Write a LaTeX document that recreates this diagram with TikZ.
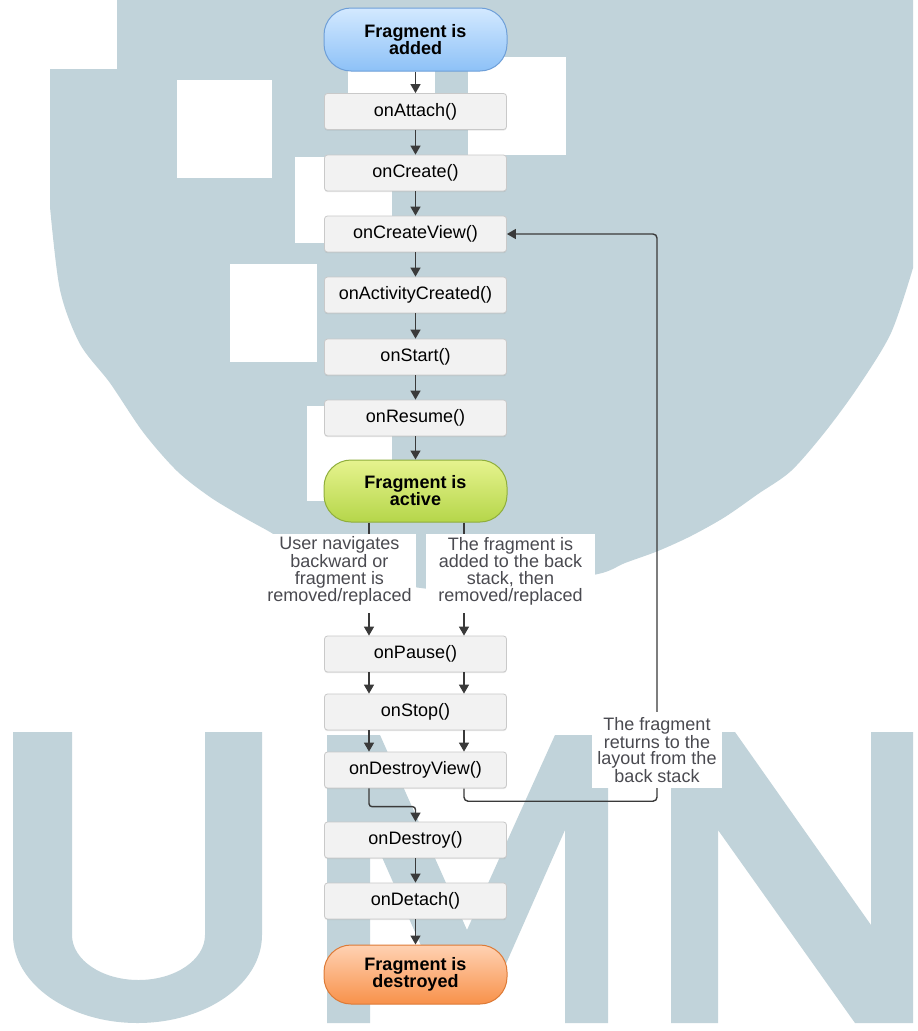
\documentclass[tikz,border=0pt]{standalone}
\usepackage{fontspec}
\setmainfont{Liberation Sans}
\usetikzlibrary{arrows.meta,calc,shadows}
\definecolor{wm}{HTML}{C1D3DA}
\definecolor{boxfill}{HTML}{F2F2F2}
\definecolor{boxline}{HTML}{C9C9C9}
\definecolor{conncol}{HTML}{3A3A3A}
\definecolor{notecol}{HTML}{4A4A50}
\definecolor{blueT}{HTML}{D3E9FF}
\definecolor{blueB}{HTML}{8DC1F7}
\definecolor{blueL}{HTML}{6E9FD8}
\definecolor{greenT}{HTML}{E6F38E}
\definecolor{greenB}{HTML}{B5D64A}
\definecolor{greenL}{HTML}{8FAE3C}
\definecolor{orangeT}{HTML}{FFD2B3}
\definecolor{orangeB}{HTML}{F8914A}
\definecolor{orangeL}{HTML}{DD7A36}
\pgfdeclarelayer{wmlayer}
\pgfdeclarelayer{mid}
\pgfsetlayers{wmlayer,mid,main}
\tikzset{
  method/.style={rectangle, rounded corners=3pt, fill=boxfill, draw=boxline, line width=0.8pt,
    minimum width=182pt, minimum height=36pt, inner sep=0pt,
    font=\fontsize{18}{20}\selectfont, text=black,
    drop shadow={shadow xshift=0pt, shadow yshift=-1.2pt, opacity=0.18}},
  pill/.style={rectangle, rounded corners=27pt, minimum width=183pt, inner sep=0pt, align=center,
    font=\bfseries\fontsize{18}{17}\selectfont, line width=1pt, text=black},
  conn/.style={draw=conncol, line width=1.4pt, -{Triangle[width=10pt,length=9pt]}},
  lane/.style={draw=conncol, line width=1.4pt},
  note/.style={fill=white, inner sep=0pt, align=center, text=notecol,
    font=\fontsize{18}{16.7}\selectfont}
}
\begin{document}
\begin{tikzpicture}[x=1pt,y=-1pt]
\useasboundingbox (0,0) rectangle (918,1031);
\begin{pgfonlayer}{wmlayer}
\fill[white] (0,0) rectangle (918,1031);
% watermark shield
\fill[wm] (117,0) -- (913,0) -- (913,268) -- plot[smooth] coordinates {(913,268) (891,333) (858,387) (825,432) (791,471) (758,494) (725,517) (691,536) (658,551) (625,563) (598,574) (520,586) (440,590) (360,576) (300,550) (270,532) (243,517) (210,497) (177,471) (143,432) (110,383) (80,344) (60,290) (50,207)} -- (50,69) -- (117,69) -- cycle;
\fill[white] (177,80) rectangle (272,178);
\fill[white] (230,264) rectangle (317,362);
\fill[white] (295,157) rectangle (392,243);
\fill[white] (307,406) rectangle (392,501);
\fill[white] (348,71) rectangle (435,94);
\fill[white] (468,57) rectangle (566,155);
% watermark letters
\fill[wm] (13,732) -- (72,732) -- (72,935) arc[start angle=180, end angle=0, x radius=66.5, y radius=45]
  -- (205,732) -- (262,732) -- (262,935) arc[start angle=0, end angle=180, x radius=124.5, y radius=88] -- cycle;
\fill[wm] (327,1023) -- (327,735) -- (380,735) -- (467,930) -- (555,735) -- (608,735) -- (608,1023)
  -- (565,1023) -- (565,830) -- (490,1000) -- (445,1000) -- (370,830) -- (370,1023) -- cycle;
\fill[wm] (671,1023) -- (671,732) -- (735,732) -- (871,925) -- (871,732) -- (913,732) -- (913,1023)
  -- (855,1023) -- (718,830) -- (718,1023) -- cycle;
\end{pgfonlayer}

% nodes
\node[pill, minimum height=63pt, draw=blueL, top color=blueT, bottom color=blueB] (added) at (415.5,39.5) {Fragment is\\added};
\node[method] (attach) at (415.5,111.5) {onAttach()};
\node[method] (create) at (415.5,173) {onCreate()};
\node[method] (cview) at (415.5,234) {onCreateView()};
\node[method] (actc) at (415.5,295) {onActivityCreated()};
\node[method] (start) at (415.5,357) {onStart()};
\node[method] (resume) at (415.5,418) {onResume()};
\node[pill, minimum height=62pt, draw=greenL, top color=greenT, bottom color=greenB] (active) at (415.5,491) {Fragment is\\active};
\node[note, minimum width=153pt, minimum height=74pt] (lblL) at (339.5,571) {User navigates\\backward or\\fragment is\\removed/replaced};
\node[note, minimum width=169pt, minimum height=74pt] (lblR) at (510.5,571) {The fragment is\\added to the back\\stack, then\\removed/replaced};
\node[method] (pause) at (415.5,654) {onPause()};
\node[method] (stop) at (415.5,712) {onStop()};
\node[method] (dview) at (415.5,770) {onDestroyView()};
\node[method] (destroy) at (415.5,840) {onDestroy()};
\node[method] (detach) at (415.5,901) {onDetach()};
\node[pill, minimum height=59pt, draw=orangeL, top color=orangeT, bottom color=orangeB] (destroyed) at (415.5,974.5) {Fragment is\\destroyed};
\node[note, minimum width=130pt, minimum height=76pt] (retlbl) at (657,750) {The fragment\\returns to the\\layout from the\\back stack};

\coordinate (laneL) at (369,0);
\coordinate (laneR) at (464,0);

% straight chain
\foreach \a/\b in {added/attach, attach/create, create/cview, cview/actc, actc/start, start/resume, resume/active, destroy/detach, detach/destroyed}
  \draw[conn] (\a) -- (\b);

% two lanes
\draw[lane] (active.south -| laneL) -- (lblL.north -| laneL);
\draw[lane] (active.south -| laneR) -- (lblR.north -| laneR);
\draw[conn, shorten <=5pt] (lblL.south -| laneL) -- (pause.north -| laneL);
\draw[conn, shorten <=5pt] (lblR.south -| laneR) -- (pause.north -| laneR);
\draw[conn] (pause.south -| laneL) -- (stop.north -| laneL);
\draw[conn] (pause.south -| laneR) -- (stop.north -| laneR);
\draw[conn] (stop.south -| laneL) -- (dview.north -| laneL);
\draw[conn] (stop.south -| laneR) -- (dview.north -| laneR);
\draw[conn, rounded corners=3pt] (dview.south -| laneL) |- ($(dview.south)!0.55!(destroy.north)$) -- (destroy.north);

% return loop
\begin{pgfonlayer}{mid}
\draw[conn, rounded corners=4pt] (dview.south -| laneR) |- ($(retlbl.south)+(0,13)$) -- (retlbl.north |- cview.east) -- (cview.east);
\end{pgfonlayer}
\end{tikzpicture}
\end{document}
